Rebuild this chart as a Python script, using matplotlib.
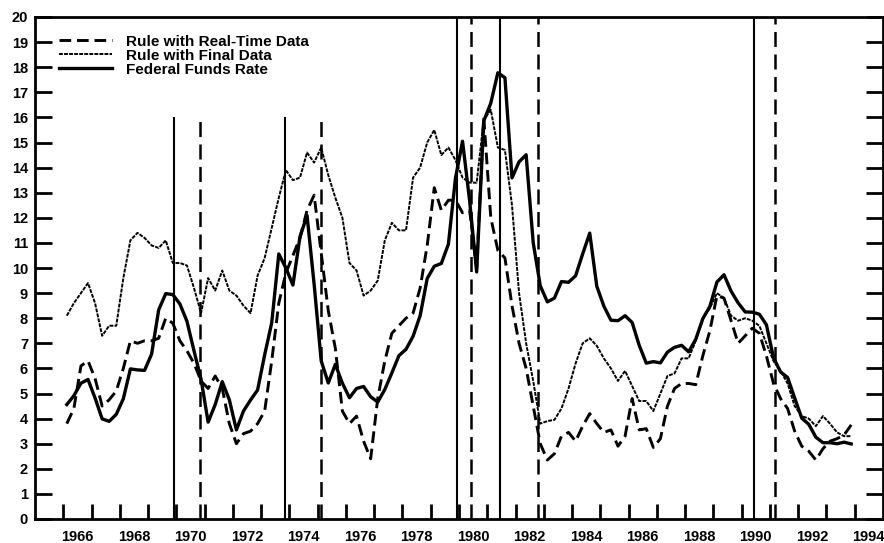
import numpy as np
import matplotlib
matplotlib.use("Agg")
import matplotlib.pyplot as plt

plt.rcParams['font.family'] = ['Liberation Sans', 'DejaVu Sans']
plt.rcParams['font.weight'] = 'bold'

# quarterly data, 1966Q1 - 1993Q4
fed_funds = [4.56, 4.91, 5.41, 5.56, 4.82, 3.99, 3.89, 4.17,
             4.79, 5.98, 5.94, 5.92, 6.57, 8.33, 8.98, 8.94,
             8.57, 7.88, 6.70, 5.57, 3.86, 4.56, 5.47, 4.75,
             3.55, 4.30, 4.74, 5.14, 6.54, 7.82, 10.56, 10.00,
             9.32, 11.25, 12.09, 9.35, 6.30, 5.42, 6.16, 5.41,
             4.83, 5.20, 5.28, 4.87, 4.66, 5.16, 5.82, 6.51,
             6.76, 7.28, 8.10, 9.58, 10.07, 10.18, 10.95, 13.58,
             15.05, 12.69, 9.84, 15.85, 16.57, 17.78, 17.58, 13.59,
             14.23, 14.51, 11.01, 9.29, 8.65, 8.80, 9.46, 9.43,
             9.69, 10.56, 11.39, 9.27, 8.48, 7.92, 7.90, 8.10,
             7.83, 6.92, 6.21, 6.27, 6.22, 6.65, 6.84, 6.92,
             6.66, 7.16, 7.98, 8.47, 9.44, 9.73, 9.08, 8.61,
             8.25, 8.24, 8.16, 7.74, 6.43, 5.86, 5.64, 4.82,
             4.02, 3.77, 3.26, 3.04, 3.04, 3.00, 3.06, 2.99]

rule_final = [8.1, 8.6, 9.0, 9.4, 8.6, 7.3, 7.7, 7.7,
              9.6, 11.1, 11.4, 11.2, 10.9, 10.8, 11.1, 10.2,
              10.2, 10.1, 9.2, 8.2, 9.6, 9.1, 9.9, 9.1,
              8.9, 8.5, 8.2, 9.7, 10.4, 11.6, 12.8, 13.9,
              13.5, 13.6, 14.6, 14.2, 14.8, 13.7, 12.8, 12.0,
              10.2, 9.9, 8.9, 9.1, 9.5, 11.1, 11.8, 11.5,
              11.5, 13.6, 14.0, 15.0, 15.5, 14.5, 14.8, 14.3,
              13.6, 13.4, 13.4, 15.9, 16.3, 14.8, 14.7, 12.5,
              9.0, 7.0, 5.5, 3.8, 3.9, 3.95, 4.4, 5.2,
              6.2, 7.0, 7.2, 6.9, 6.4, 6.0, 5.5, 5.9,
              5.3, 4.7, 4.7, 4.3, 5.0, 5.7, 5.8, 6.4,
              6.4, 7.1, 8.0, 8.4, 9.0, 8.8, 8.1, 7.9,
              8.0, 7.9, 7.7, 7.0, 6.3, 5.9, 5.4, 4.5,
              4.1, 4.0, 3.7, 4.1, 3.8, 3.45, 3.3, 3.3]

rule_realtime = [3.8, 4.4, 6.1, 6.3, 5.6, 4.5, 4.75, 5.1,
                 6.0, 7.1, 7.0, 7.1, 7.1, 7.2, 8.0, 7.8,
                 7.1, 6.7, 6.2, 5.5, 5.2, 5.7, 5.2, 3.8,
                 3.0, 3.4, 3.5, 3.8, 4.3, 6.3, 8.6, 9.8,
                 10.5, 11.2, 12.3, 12.9, 10.6, 8.3, 6.8, 4.3,
                 3.8, 4.1, 3.1, 2.4, 4.8, 6.3, 7.4, 7.7,
                 8.0, 8.2, 9.2, 10.9, 13.2, 12.3, 12.7, 12.7,
                 12.2, 12.3, 10.0, 16.0, 12.0, 10.7, 10.4, 8.5,
                 7.0, 6.0, 4.5, 3.0, 2.35, 2.6, 3.3, 3.45,
                 3.1, 3.7, 4.2, 3.8, 3.45, 3.55, 2.9, 3.3,
                 4.8, 3.55, 3.6, 2.85, 3.2, 4.5, 5.2, 5.4,
                 5.4, 5.35, 6.5, 7.5, 8.9, 8.8, 7.9, 7.0,
                 7.3, 7.6, 7.4, 6.5, 5.4, 4.8, 4.4, 3.5,
                 2.9, 2.7, 2.35, 2.8, 3.1, 3.2, 3.35, 3.75]

# business cycle peaks (solid) and troughs (dashed), with line top
peaks = [1969.92, 1973.83, 1979.93, 1981.44, 1990.44]
peak_tops = [16, 16, 20, 20, 20]
troughs = [1970.83, 1975.13, 1980.44, 1982.78, 1991.18]
trough_tops = [16, 16, 20, 20, 20]

t = 1966 + (np.arange(len(fed_funds)) + 0.5) / 4

fig = plt.figure(figsize=(8.84, 5.43), dpi=100)
ax = fig.add_axes([35/884, 24/543, 848/884, 502/543])

for x, top in zip(peaks, peak_tops):
    ax.plot([x, x], [0, top], color='black', lw=1.5, solid_capstyle='butt')
for x, top in zip(troughs, trough_tops):
    ax.plot([x, x], [0, top], color='black', lw=1.8, linestyle=(0, (6, 3)))

ax.plot(t, rule_realtime, color='black', lw=2.1, linestyle=(0, (4, 2)),
        label='Rule with Real-Time Data')
ax.plot(t, rule_final, color='black', lw=1.4, linestyle=(0, (2, 0.6)),
        label='Rule with Final Data')
ax.plot(t, fed_funds, color='black', lw=2.4, label='Federal Funds Rate')

ax.set_xlim(1965, 1995)
ax.set_ylim(0, 20)
ax.set_yticks(range(0, 21))
ax.set_xticks(range(1966, 1995))
ax.set_xticklabels([])
ax.set_xticks([y + 0.5 for y in range(1966, 1995, 2)], minor=True)
ax.set_xticklabels([str(y) for y in range(1966, 1995, 2)], minor=True)
ax.tick_params(axis='x', which='major', direction='in', length=11, width=2)
ax.tick_params(axis='x', which='minor', length=0, pad=8, labelsize=10.5)
ax.tick_params(axis='y', direction='in', length=12, width=2, right=True,
               labelsize=10.5, pad=5)
for s in ax.spines.values():
    s.set_linewidth(2)

leg = ax.legend(loc='upper left', bbox_to_anchor=(0.012, 0.992), frameon=False,
                handlelength=3.5, labelspacing=0.0, handletextpad=0.9,
                prop={'size': 11, 'weight': 'bold'})

fig.savefig('out.png', dpi=100)
